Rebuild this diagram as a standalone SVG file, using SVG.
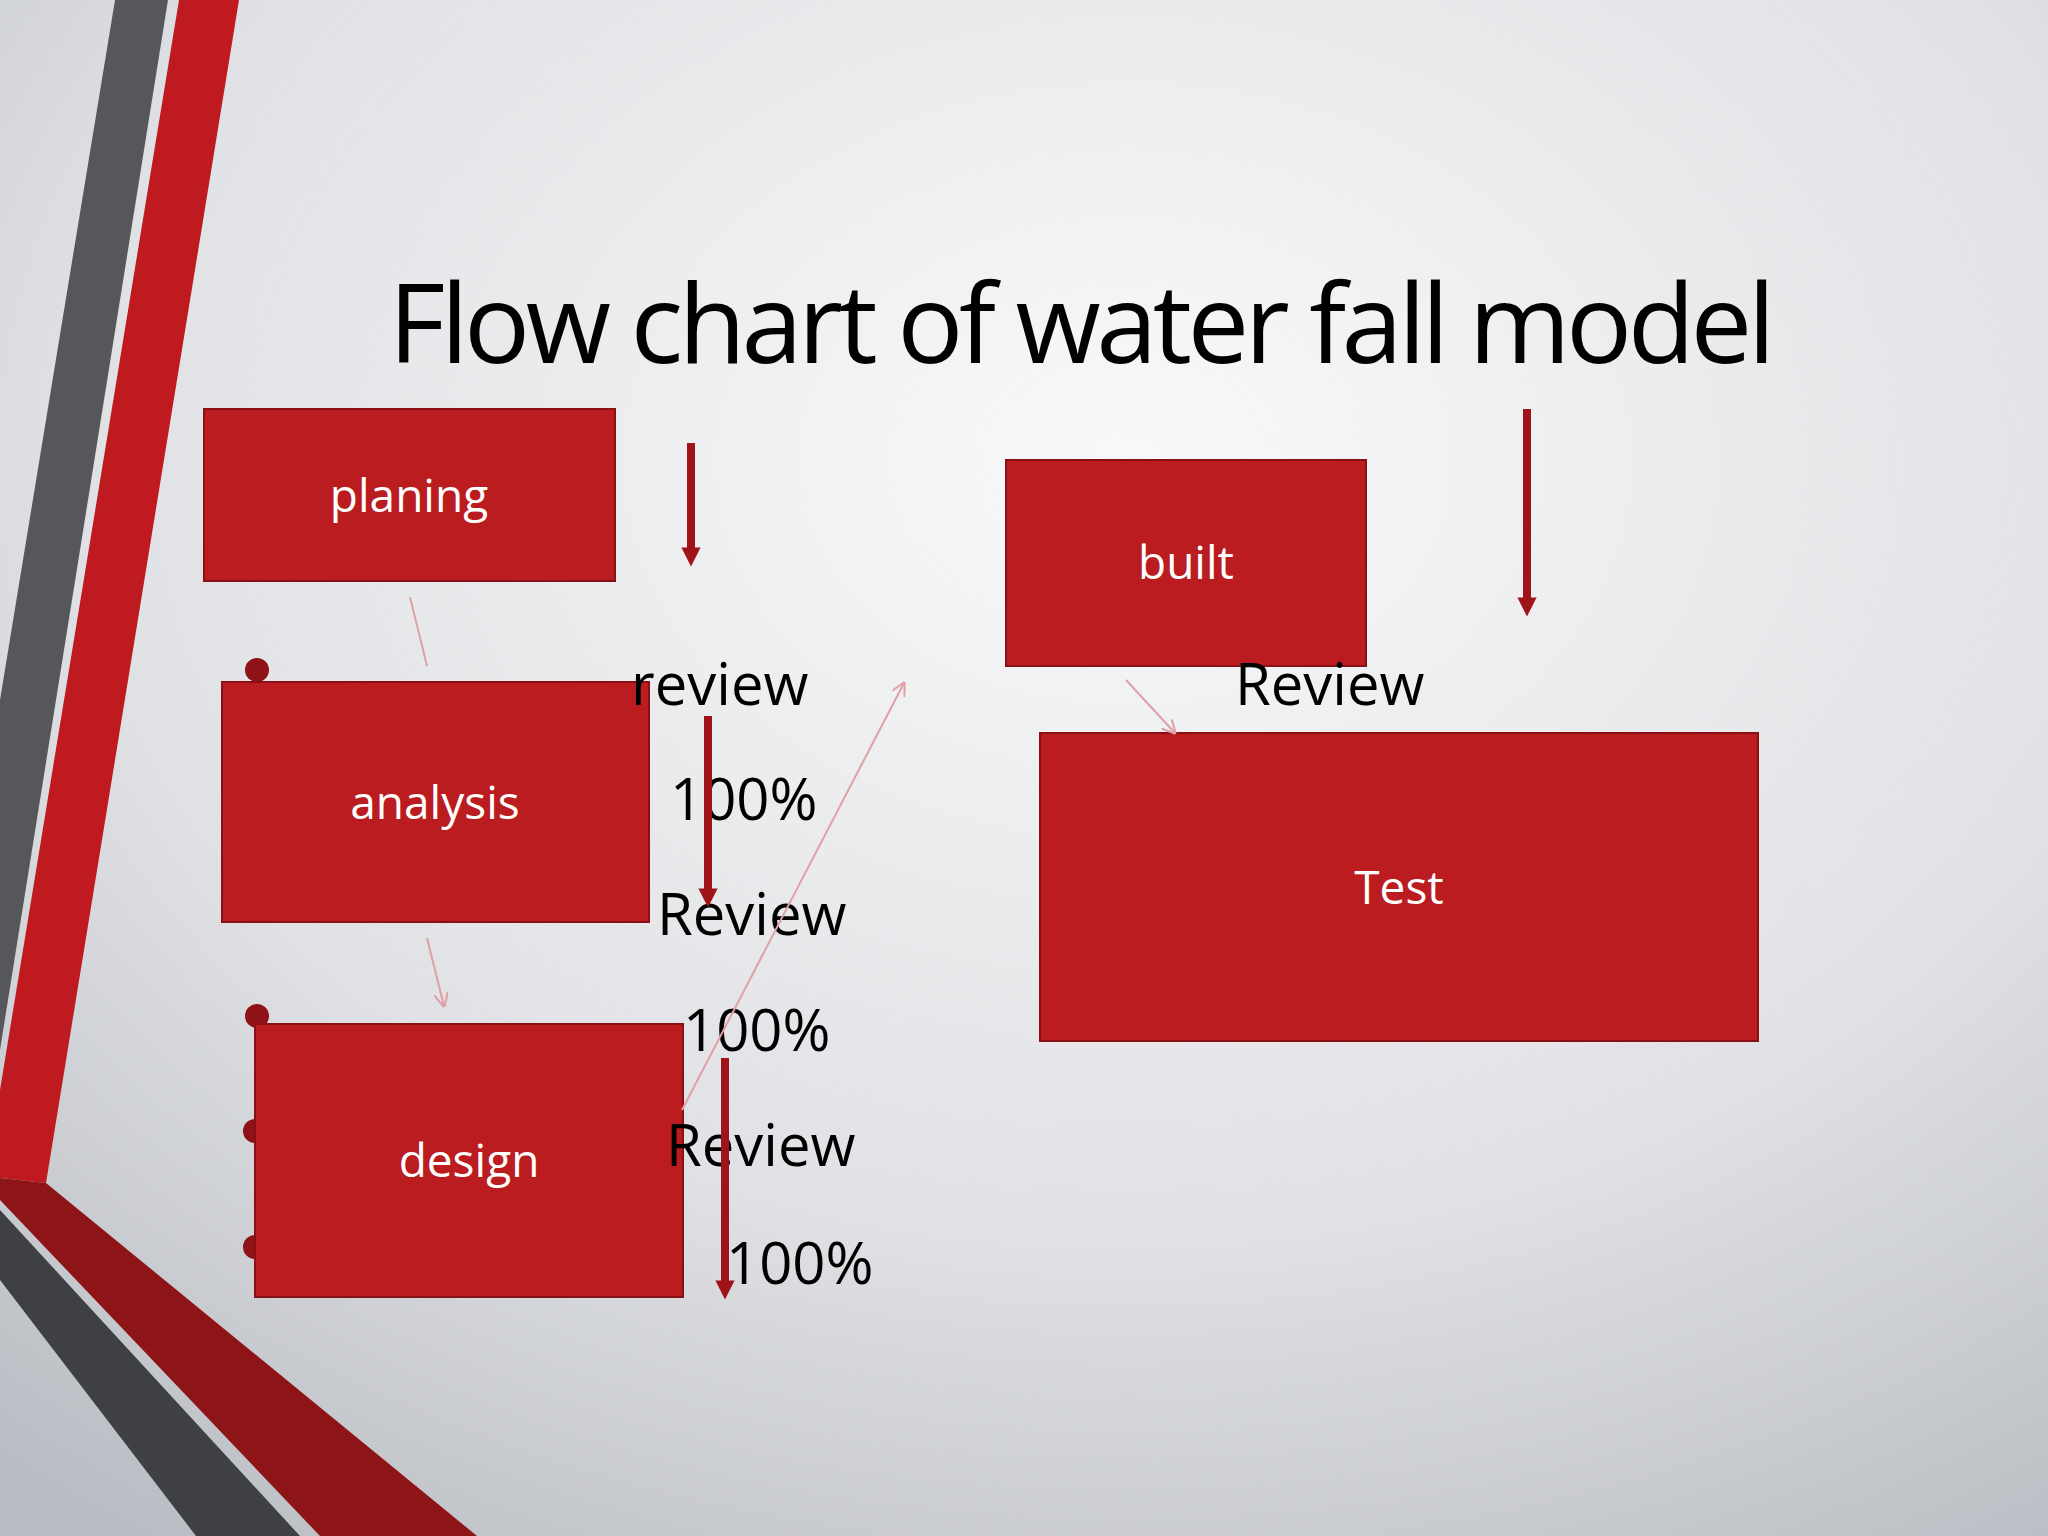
<svg xmlns="http://www.w3.org/2000/svg" width="2048" height="1536" viewBox="0 0 2048 1536">
<defs>
<radialGradient id="bg" cx="0.55" cy="0.3" r="0.85">
<stop offset="0" stop-color="#f8f9fa"/><stop offset="0.6" stop-color="#dfe1e4"/><stop offset="1" stop-color="#b9bcc2"/>
</radialGradient>
<marker id="ap" viewBox="0 0 10 10" refX="9" refY="5" markerWidth="14" markerHeight="14" markerUnits="userSpaceOnUse" orient="auto"><path d="M0,0 L10,5 L0,10" fill="none" stroke="#e0a0a8" stroke-width="1.5"/></marker>
<marker id="ar" viewBox="0 0 10 10" refX="5" refY="5" markerWidth="2.4" markerHeight="2.4" orient="auto"><path d="M0,0 L10,5 L0,10 Z" fill="#a01318"/></marker>
</defs>
<style>
.box{fill:#bb1c1f;stroke:#8a1015;stroke-width:2}
.bl{font-family:"Open Sans","Liberation Sans",sans-serif;font-size:46px;fill:#fff;text-anchor:middle}
.t{font-family:"Open Sans","Liberation Sans",sans-serif;font-size:58px;fill:#000}
.pk{stroke:#e0a0a8;stroke-width:2;fill:none}
.dr{stroke:#a01318;stroke-width:8;fill:none;marker-end:url(#ar)}
.dot{fill:#8e1216}
</style>
<rect width="2048" height="1536" fill="url(#bg)"/>
<polygon points="115,0 168,0 0,1050 0,700" fill="#55575a"/>
<polygon points="179,0 239,0 46,1183 0,1178 0,1090" fill="#bf1a1f"/>
<polygon points="0,1178 46,1183 477,1536 320,1536 0,1200" fill="#8d1417"/>
<polygon points="0,1210 0,1280 196,1536 300,1536" fill="#3e4043"/>
<text x="1082" y="363" font-family="Open Sans,Liberation Sans,sans-serif" font-size="110" text-anchor="middle" textLength="1387" fill="#000">Flow chart of water fall model</text>
<g id="bullets"><circle class="dot" cx="257" cy="670" r="12"/><circle class="dot" cx="257" cy="1016" r="12"/><circle class="dot" cx="255" cy="1131" r="12"/><circle class="dot" cx="255" cy="1247" r="12"/></g>
<g id="planing"><rect class="box" x="204" y="409" width="411" height="172"/><text class="bl" x="409" y="512">planing</text></g>
<g id="analysis"><rect class="box" x="222" y="682" width="427" height="240"/><text class="bl" x="435" y="819">analysis</text></g>
<g id="design"><rect class="box" x="255" y="1024" width="428" height="273"/><text class="bl" x="469" y="1177">design</text></g>
<g id="built"><rect class="box" x="1006" y="460" width="360" height="206"/><text class="bl" x="1186" y="579">built</text></g>
<g id="test"><rect class="box" x="1040" y="733" width="718" height="308"/><text class="bl" x="1399" y="904">Test</text></g>
<g id="labels">
<text class="t" x="631" y="705">review</text>
<text class="t" x="670" y="820">100%</text>
<text class="t" x="657" y="935">Review</text>
<text class="t" x="683" y="1051">100%</text>
<text class="t" x="666" y="1166">Review</text>
<text class="t" x="726" y="1284">100%</text>
<text class="t" x="1235" y="705">Review</text>
</g>
<g id="connectors">
<line class="dr" x1="691" y1="443" x2="691" y2="557"/>
<line class="dr" x1="1527" y1="409" x2="1527" y2="607"/>
<line class="dr" x1="708" y1="716" x2="708" y2="898"/>
<line class="dr" x1="725" y1="1058" x2="725" y2="1290"/>
<line class="pk" x1="410" y1="597" x2="427" y2="666"/>
<line class="pk" x1="427" y1="938" x2="444" y2="1006" marker-end="url(#ap)"/>
<line class="pk" x1="682" y1="1110" x2="904" y2="683" marker-end="url(#ap)"/>
<line class="pk" x1="1126" y1="680" x2="1175" y2="733" marker-end="url(#ap)"/>
</g>
</svg>
